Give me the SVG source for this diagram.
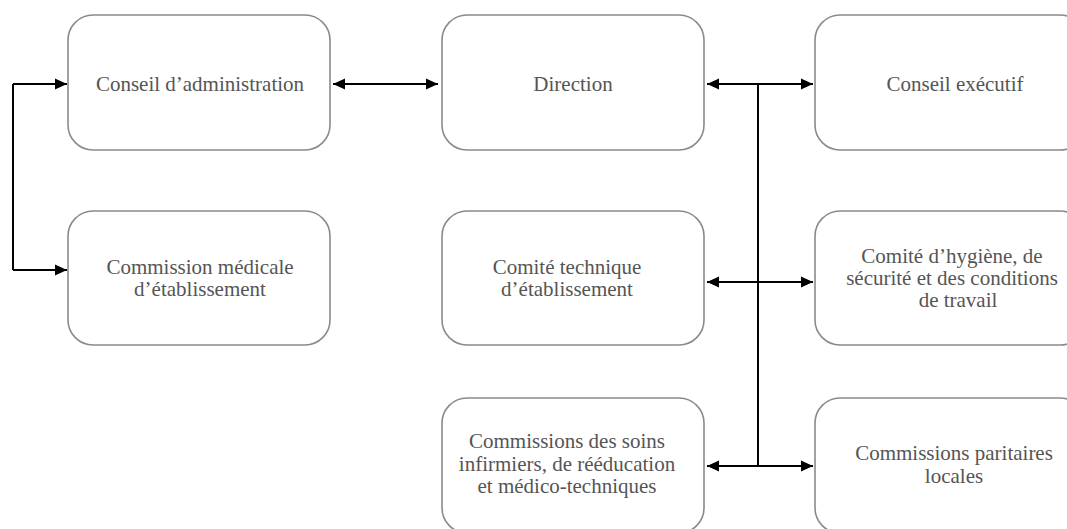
<svg xmlns="http://www.w3.org/2000/svg" width="1067" height="529" viewBox="0 0 1067 529">
  <defs>
    <marker id="arrow" viewBox="0 0 12 12" refX="12" refY="6" markerWidth="12" markerHeight="12" markerUnits="userSpaceOnUse" orient="auto-start-reverse">
      <path d="M0,0.5 L12,6 L0,11.5 Z" fill="#000"/>
    </marker>
  </defs>
  <style>
    .box { fill: #fff; stroke: #8a8a8a; stroke-width: 1.6; }
    .label { font-family: "Liberation Serif", "Times New Roman", serif; font-size: 21px; fill: #555; text-anchor: middle; }
    .link { fill: none; stroke: #000; stroke-width: 2; }
  </style>
  <rect width="1067" height="529" fill="#fff"/>

  <!-- left column -->
  <g id="conseil-administration">
    <rect class="box" x="68" y="15" width="262" height="135" rx="25"/>
    <text class="label" x="200" y="91">Conseil d’administration</text>
  </g>
  <g id="commission-medicale">
    <rect class="box" x="68" y="211" width="262" height="134" rx="25"/>
    <text class="label" x="200" y="274">Commission médicale</text>
    <text class="label" x="200" y="296">d’établissement</text>
  </g>

  <!-- middle column -->
  <g id="direction">
    <rect class="box" x="442" y="15" width="262" height="135" rx="25"/>
    <text class="label" x="573" y="91">Direction</text>
  </g>
  <g id="comite-technique">
    <rect class="box" x="442" y="211" width="262" height="134" rx="25"/>
    <text class="label" x="567" y="274">Comité technique</text>
    <text class="label" x="567" y="296">d’établissement</text>
  </g>
  <g id="commissions-soins">
    <rect class="box" x="442" y="398" width="262" height="135" rx="25"/>
    <text class="label" x="567" y="448">Commissions des soins</text>
    <text class="label" x="567" y="471">infirmiers, de rééducation</text>
    <text class="label" x="567" y="493">et médico-techniques</text>
  </g>

  <!-- right column, running past the right edge -->
  <g id="conseil-executif">
    <rect class="box" x="815" y="15" width="270" height="135" rx="25"/>
    <text class="label" x="955" y="91">Conseil exécutif</text>
  </g>
  <g id="comite-hygiene">
    <rect class="box" x="815" y="211" width="270" height="134" rx="25"/>
    <text class="label" x="952" y="263">Comité d’hygiène, de</text>
    <text class="label" x="952" y="285">sécurité et des conditions</text>
    <text class="label" x="958" y="307">de travail</text>
  </g>
  <g id="commissions-paritaires">
    <rect class="box" x="815" y="398" width="270" height="135" rx="25"/>
    <text class="label" x="954" y="460">Commissions paritaires</text>
    <text class="label" x="954" y="483">locales</text>
  </g>

  <!-- connectors -->
  <g id="connectors">
    <path class="link" d="M13,84 V270"/>
    <path class="link" d="M13,84 H67" marker-end="url(#arrow)"/>
    <path class="link" d="M13,270 H67" marker-end="url(#arrow)"/>
    <path class="link" d="M333,84 H438" marker-start="url(#arrow)" marker-end="url(#arrow)"/>
    <path class="link" d="M758,84 V466"/>
    <path class="link" d="M707,84 H813" marker-start="url(#arrow)" marker-end="url(#arrow)"/>
    <path class="link" d="M707,282 H813" marker-start="url(#arrow)" marker-end="url(#arrow)"/>
    <path class="link" d="M707,466 H813" marker-start="url(#arrow)" marker-end="url(#arrow)"/>
  </g>
</svg>
